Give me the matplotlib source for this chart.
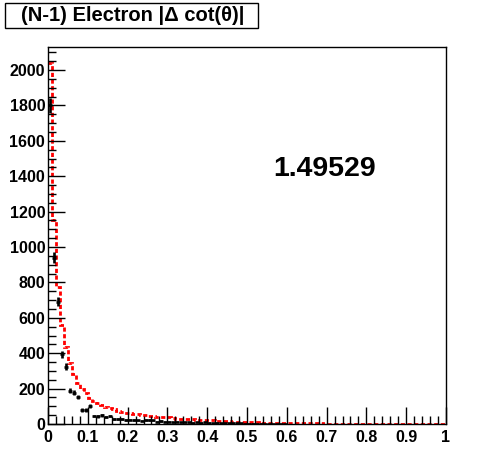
import numpy as np
import matplotlib.pyplot as plt
from matplotlib.patches import Rectangle
from matplotlib.ticker import MultipleLocator

plt.rcParams['font.family'] = ['Liberation Sans', 'DejaVu Sans']
plt.rcParams['font.weight'] = 'bold'

# 100 bins of 0.01 between 0 and 1
bin_edges = np.linspace(0, 1, 101)

# red dashed histogram (reference)
red_counts = [
    2040, 1153, 776, 559, 435, 343, 280, 233, 195, 177,
    147, 132, 121, 109, 98, 90, 83, 75, 70, 64,
    60, 58, 55, 52, 50, 47, 45, 42, 41, 40,
    37, 35, 30, 28, 28, 27, 26, 25, 24, 24,
    23, 20, 19, 19, 18, 17, 14, 13, 13, 12,
    12, 11, 10, 7, 7, 7, 6, 6, 6, 6,
    6, 5, 5, 5, 5, 5, 3, 3, 3, 2,
    2, 2, 2, 2, 2, 2, 2, 2, 2, 2,
    2, 2, 2, 2, 2, 2, 2, 2, 2, 2,
    2, 2, 2, 2, 2, 2, 2, 2, 2, 2,
]

# black points with errors (data)
black_counts = [
    1800, 940, 691, 395, 324, 188, 177, 151, 79, 79,
    102, 45, 43, 49, 40, 45, 30, 28, 28, 22,
    25, 22, 20, 19, 23, 22, 20, 14, 16, 12,
    14, 10, 12, 10, 9, 10, 8, 10, 7, 9,
    8, 6, 7, 5, 6, 4, 5, 3, 3, 2,
    2, 2, 1, 2, 1, 1, 1, 1, 1, 1,
    0, 0, 0, 0, 0, 0, 0, 0, 0, 0,
    0, 0, 0, 0, 0, 0, 0, 0, 0, 0,
    0, 0, 0, 0, 0, 0, 0, 0, 0, 0,
    0, 0, 0, 0, 0, 0, 0, 0, 0, 0,
]

x_tick_labels = ['0', '0.1', '0.2', '0.3', '0.4', '0.5', '0.6', '0.7', '0.8', '0.9', '1']
title = '(N-1) Electron |\u0394 cot(\u03b8)|'
ratio_text = '1.49529'

fig = plt.figure(figsize=(4.96, 4.72), dpi=100)
ax = fig.add_axes([48 / 496, 48 / 472, 398 / 496, 377 / 472])

red = np.array(red_counts, dtype=float)
ax.stairs(red, bin_edges, color='#ff0000', linewidth=2,
          linestyle=(0, (1.5, 0.9)), baseline=None)

black = np.array(black_counts, dtype=float)
centers = 0.5 * (bin_edges[:-1] + bin_edges[1:])
mask = black > 0
ax.errorbar(centers[mask], black[mask], xerr=0.005, yerr=np.sqrt(black[mask]),
            fmt='none', ecolor='black', elinewidth=1.9, capsize=0)

ax.set_xlim(0, 1)
ax.set_ylim(0, 2130)
ax.xaxis.set_major_locator(MultipleLocator(0.1))
ax.xaxis.set_minor_locator(MultipleLocator(0.02))
ax.yaxis.set_major_locator(MultipleLocator(200))
ax.yaxis.set_minor_locator(MultipleLocator(50))
ax.set_xticks(np.linspace(0, 1, 11))
ax.set_xticklabels(x_tick_labels)
ax.tick_params(which='both', direction='in', top=False, right=False,
               labelsize=11.5, width=1)
ax.tick_params(which='major', length=12)
ax.tick_params(which='minor', length=6)
ax.tick_params(axis='x', pad=4)
ax.tick_params(axis='y', pad=2)
for lab in ax.get_xticklabels() + ax.get_yticklabels():
    lab.set_fontweight('bold')
for sp in ax.spines.values():
    sp.set_linewidth(1)

ax.text(0.565, 0.676, ratio_text, transform=ax.transAxes, fontsize=20.5,
        fontweight='bold', ha='left', va='center')

# title box at top left
fig.patches.append(Rectangle((5 / 496, 1 - 28 / 472), 253 / 496, 25 / 472,
                             transform=fig.transFigure, fill=False,
                             edgecolor='black', linewidth=1))
fig.text(133 / 496, 1 - 15.5 / 472, title, fontsize=14.5, fontweight='bold',
         ha='center', va='center')

fig.savefig('out.png', dpi=100)
